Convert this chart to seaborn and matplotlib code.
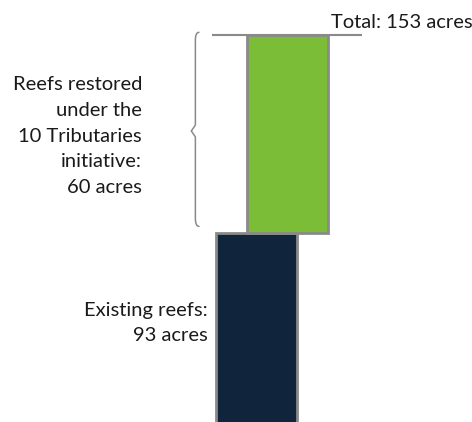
import matplotlib
matplotlib.use("Agg")
import matplotlib.pyplot as plt
import seaborn as sns
from matplotlib.path import Path
from matplotlib.patches import PathPatch

# Oyster reef acreage
segments = ["Existing reefs", "Reefs restored under the 10 Tributaries initiative"]
acres = [93, 60]
total = sum(acres)

existing_label = "Existing reefs:\n93 acres"
restored_label = "Reefs restored\nunder the\n10 Tributaries\ninitiative:\n60 acres"
total_label = f"Total: {total} acres"

navy = "#10253B"
green = "#7CBD37"
edge = "#8A8A8A"

sns.set_theme(style="white")
plt.rcParams["font.family"] = ["Lato", "DejaVu Sans"]

fig = plt.figure(figsize=(4.72, 4.22), dpi=100)
ax = fig.add_axes([0, 0, 1, 1])

# Base segment: existing reefs
sns.barplot(x=[segments[0]], y=[acres[0]], color=navy, saturation=1,
            width=1.0, edgecolor=edge, linewidth=2, ax=ax, zorder=2)

# Restored reefs sit on top of the existing acreage, shifted right
offset = 0.383
ax.bar(offset, acres[1], bottom=acres[0], width=1.0, color=green,
       edgecolor=edge, linewidth=2, zorder=3)

# Total reference line
ax.hlines(total, -0.547, 1.305, color=edge, linewidth=1.5, zorder=1)

ax.set_xlim(-3.164, 2.663)
ax.set_ylim(35.7, 163.6)
ax.axis("off")

fs = 14.5
txt = "#1a1a1a"
ax.text(0.922, total + 2.1, total_label, ha="left", va="baseline",
        fontsize=fs, color=txt)
# multi-line labels are anchored on the baseline of their last line
ax.text(-1.411, 105.1, restored_label, ha="right", va="baseline",
        fontsize=fs, color=txt, linespacing=1.62)
ax.text(-0.596, 60.1, existing_label, ha="right", va="baseline",
        fontsize=fs, color=txt, linespacing=1.58)

# Curly brace spanning the restored segment
bx, tip, endx = -0.752, -0.802, -0.708
top, bot = total + 0.8, acres[0] + 2.0
mid = (top + bot) / 2 - 0.5
dy = 2.4
verts = [
    (endx, top), (bx, top), (bx, top - dy),
    (bx, mid + 1.8), (tip, mid), (bx, mid - 1.8),
    (bx, bot + dy), (bx, bot), (endx, bot),
]
codes = [Path.MOVETO, Path.CURVE3, Path.CURVE3,
         Path.LINETO, Path.LINETO, Path.LINETO,
         Path.LINETO, Path.CURVE3, Path.CURVE3]
ax.add_patch(PathPatch(Path(verts, codes), facecolor="none",
                       edgecolor=edge, linewidth=1.1, capstyle="round"))

fig.savefig("out.png", dpi=100)
